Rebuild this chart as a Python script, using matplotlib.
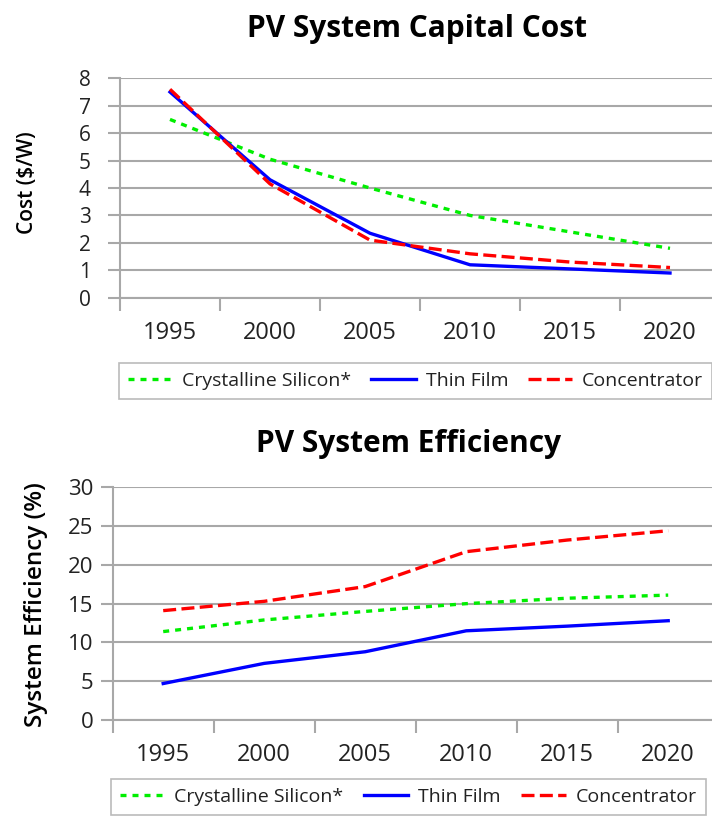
import numpy as np
import matplotlib
matplotlib.use('Agg')
import matplotlib.pyplot as plt

plt.rcParams['font.family'] = ['Open Sans', 'DejaVu Sans']

years = ['1995', '2000', '2005', '2010', '2015', '2020']

# capital cost ($/W)
cost_silicon = [6.5, 5.05, 4.0, 3.0, 2.4, 1.8]
cost_thin = [7.5, 4.3, 2.35, 1.2, 1.05, 0.9]
cost_conc = [7.6, 4.15, 2.1, 1.6, 1.3, 1.1]

# system efficiency (%)
eff_silicon = [11.4, 12.9, 14.0, 15.0, 15.7, 16.1]
eff_thin = [4.7, 7.3, 8.8, 11.5, 12.1, 12.8]
eff_conc = [14.1, 15.3, 17.2, 21.7, 23.2, 24.4]

labels = ['Crystalline Silicon*', 'Thin Film', 'Concentrator']

W, H = 712, 817
fig = plt.figure(figsize=(W / 100, H / 100), dpi=100)

grid_c = '#a8a8a8'
lw = 2.4


def setup(ax, ylim, ystep, ypad, ysize):
    x = np.arange(len(years))
    ax.set_xlim(-0.5, len(years) - 0.5)
    ax.set_ylim(*ylim)
    ax.set_yticks(np.arange(ylim[0], ylim[1] + 0.1, ystep))
    ax.yaxis.grid(True, color=grid_c, linewidth=1.5)
    ax.set_axisbelow(True)
    for s in ['top', 'right']:
        ax.spines[s].set_visible(False)
    ax.spines['left'].set_color(grid_c)
    ax.spines['left'].set_linewidth(1.5)
    ax.spines['bottom'].set_color(grid_c)
    ax.spines['bottom'].set_linewidth(1.5)
    # boundaries between categories get tick marks, centers get labels
    ax.set_xticks(np.arange(-0.5, len(years) - 0.4, 1.0))
    ax.set_xticklabels([])
    ax.set_xticks(x, minor=True)
    ax.set_xticklabels(years, minor=True, fontsize=17, color='#222222')
    ax.tick_params(axis='x', which='major', length=9, width=1.5, color=grid_c)
    ax.tick_params(axis='x', which='minor', length=0, pad=16.5)
    ax.tick_params(axis='y', length=9, width=1.5, color=grid_c,
                   labelsize=ysize, labelcolor='#222222', pad=ypad)
    return x


def draw(ax, x, s, t, c):
    ax.plot(x, s, color='#00ee00', linewidth=lw, linestyle=(0, (1.8, 1.8)),
            solid_capstyle='butt', label=labels[0])
    ax.plot(x, t, color='#0000ff', linewidth=lw, label=labels[1])
    ax.plot(x, c, color='#ff0000', linewidth=lw, linestyle=(0, (3.9, 1.6)),
            label=labels[2])


ax1 = fig.add_axes([120 / W, 1 - 297.7 / H, 600 / W, 219.4 / H])
x = setup(ax1, (0, 8), 1, 12, 15)
draw(ax1, x, cost_silicon, cost_thin, cost_conc)

ax2 = fig.add_axes([112.7 / W, 1 - 720 / H, 606 / W, 232.7 / H])
x = setup(ax2, (0, 30), 5, 5, 16)
draw(ax2, x, eff_silicon, eff_thin, eff_conc)

fig.text(416.5 / W, 1 - 36.7 / H, 'PV System Capital Cost', ha='center',
         va='baseline', fontsize=21.5, fontweight='bold')
fig.text(409 / W, 1 - 451.7 / H, 'PV System Efficiency', ha='center',
         va='baseline', fontsize=21.5, fontweight='bold')
fig.text(28 / W, 1 - 182.5 / H, 'Cost ($/W)', rotation=90, ha='center',
         va='center', fontsize=15, fontweight='semibold')
fig.text(36 / W, 1 - 605 / H, 'System Efficiency (%)', rotation=90,
         ha='center', va='center', fontsize=17.5, fontweight='semibold')


def legend(ax, x0, y0, hl, cs):
    leg = fig.legend(*ax.get_legend_handles_labels(), loc='upper left',
                     bbox_to_anchor=(x0 / W, 1 - y0 / H), ncol=3,
                     fontsize=14, handlelength=hl, handletextpad=0.5,
                     columnspacing=cs, fancybox=False, framealpha=1,
                     borderpad=0.45, borderaxespad=0)
    leg.get_frame().set_edgecolor('#bbbbbb')
    leg.get_frame().set_linewidth(1.2)
    for t in leg.get_texts():
        t.set_color('#222222')


legend(ax1, 119.3, 363.3, 2.3, 1.0)
legend(ax2, 111, 779.3, 2.3, 1.05)

fig.savefig('out.png', dpi=100)
